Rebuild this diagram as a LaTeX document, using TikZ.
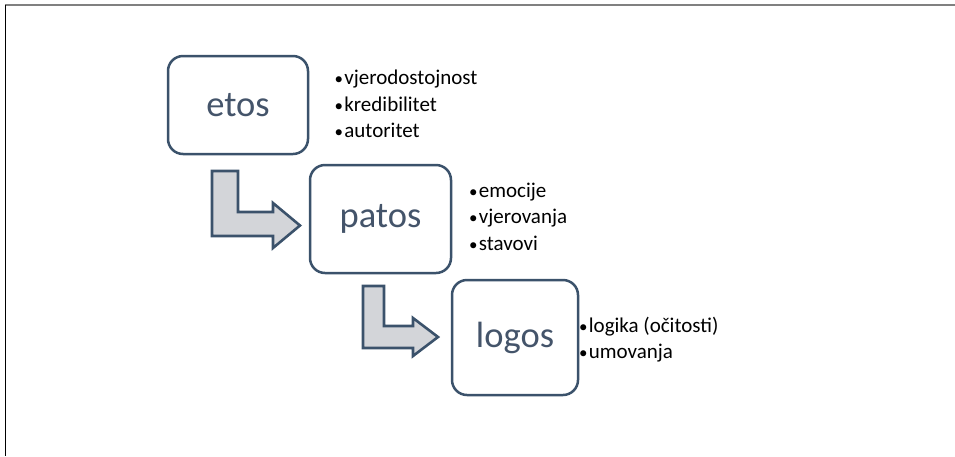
\documentclass[tikz,border=0pt]{standalone}
\usepackage{fontspec}
\setmainfont{Carlito}
\definecolor{frameblue}{HTML}{3B526B}
\definecolor{labelblue}{HTML}{44546A}
\definecolor{arrowgray}{HTML}{D3D5D9}
\newcommand{\itemdot}{{\fontsize{17}{20}\selectfont\textbullet}\kern1.2pt}
\tikzset{
  term/.style={draw=frameblue, line width=2.5pt, rounded corners=15pt, fill=white,
    text=labelblue, font=\fontsize{36.5}{44}\selectfont, inner sep=0pt},
  item/.style={anchor=base west, inner sep=0pt, text=black,
    font=\fontsize{21}{25}\selectfont},
  bentarrow/.style={draw=frameblue, line width=2.6pt, fill=arrowgray, line join=miter}
}
\begin{document}
\begin{tikzpicture}[x=1pt,y=-1pt]
  \useasboundingbox (0,0) rectangle (955,456);
  % page frame
  \draw[gray, line width=1.6pt] (5,5) -- (955,5);
  \draw[black, line width=1.4pt] (5.5,5) -- (5.5,456);

  % the three appeals
  \node[term, minimum width=140pt, minimum height=98pt] (etos) at (238,105) {etos};
  \node[term, minimum width=141pt, minimum height=108pt] (patos) at (380.5,219) {patos};
  \node[term, minimum width=126pt, minimum height=115pt] (logos) at (515,337.5) {logos};

  % bent arrows between the boxes
  \draw[bentarrow] (212,171) -- (238,171) -- (238,212) -- (273,212) -- (273,203)
    -- (300,225.5) -- (273,248) -- (273,236) -- (212,236) -- cycle;
  \draw[bentarrow] (363,286) -- (384,286) -- (384,326) -- (413,326) -- (413,318)
    -- (438,337) -- (413,356) -- (413,348) -- (363,348) -- cycle;

  % etos items
  \node[item] (e1) at (334.5,84.5) {\itemdot vjerodostojnost};
  \node[item] (e2) at (334.5,111) {\itemdot kredibilitet};
  \node[item] (e3) at (334.5,137.5) {\itemdot autoritet};

  % patos items
  \node[item] (p1) at (469,197) {\itemdot emocije};
  \node[item] (p2) at (469,223.5) {\itemdot vjerovanja};
  \node[item] (p3) at (469,250) {\itemdot stavovi};

  % logos items
  \node[item] (l1) at (579,332) {\itemdot logika (očitosti)};
  \node[item] (l2) at (579,358) {\itemdot umovanja};
\end{tikzpicture}
\end{document}
